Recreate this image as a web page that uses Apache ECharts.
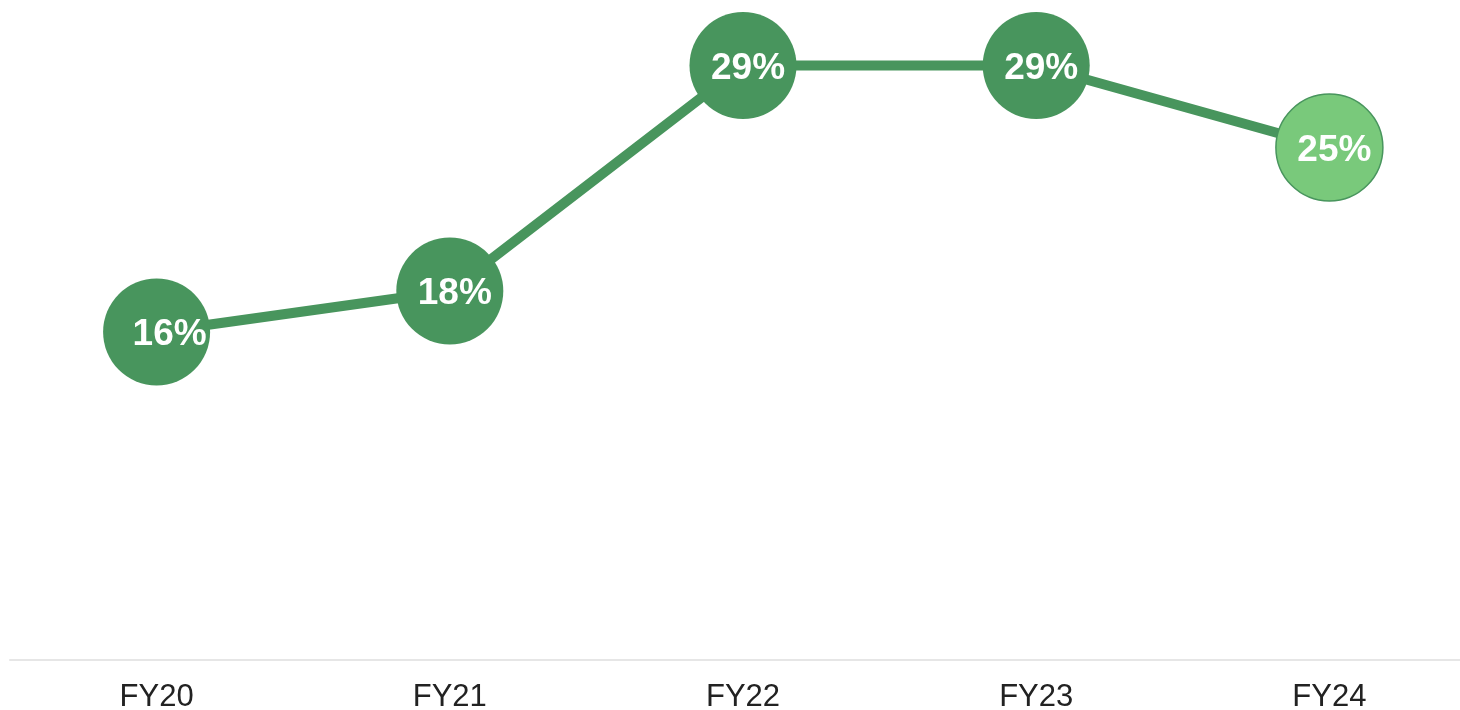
<!DOCTYPE html>
<html>
<head>
    <meta charset="utf-8">
    <title>ECharts</title>
    <script src="https://cdn.jsdelivr.net/npm/echarts@6/dist/echarts.min.js"></script>
    <style>
        html, body { margin: 0; padding: 0; background: #fff; }
    </style>
</head>
<body>
    <div id="main" style="width: 1460px;height:710px;"></div>
    <script type="text/javascript">
        var categories = ['FY20', 'FY21', 'FY22', 'FY23', 'FY24'];
        var values = [16, 18, 29, 29, 25];
        var highlight = [false, false, false, false, true];

        var dark = '#48955d';
        var light = '#79c97b';

        var myChart = echarts.init(document.getElementById('main'));

        var seriesData = values.map(function (v, i) {
            var item = { value: v };
            if (highlight[i]) {
                item.itemStyle = { color: light, borderColor: dark, borderWidth: 1.5 };
            }
            if (i === 0) {
                item.label = { offset: [13, 3] };
            }
            return item;
        });

        var option = {
            backgroundColor: '#ffffff',
            animation: false,
            // plot area runs a bit past the right edge of the canvas
            grid: { left: 10, right: -16, top: 4, bottom: 50, outerBoundsMode: 'none', containLabel: false },
            xAxis: {
                type: 'category',
                data: categories,
                boundaryGap: true,
                axisLine: { lineStyle: { color: '#e6e6e6', width: 2 } },
                axisTick: { show: false },
                axisLabel: {
                    color: '#222',
                    fontSize: 31,
                    fontFamily: 'Liberation Sans, Arial, sans-serif',
                    margin: 22
                }
            },
            yAxis: {
                type: 'value',
                min: 0,
                max: 32,
                show: false
            },
            series: [
                {
                    type: 'line',
                    data: seriesData,
                    symbol: 'circle',
                    symbolSize: 107,
                    lineStyle: { color: dark, width: 10 },
                    itemStyle: { color: dark },
                    label: {
                        show: true,
                        position: 'inside',
                        formatter: '{c}%',
                        offset: [5, 3],
                        color: '#fff',
                        fontSize: 37,
                        fontWeight: 'bold',
                        fontFamily: 'Liberation Sans, Arial, sans-serif'
                    }
                }
            ]
        };
        myChart.setOption(option);
    </script>
</body>
</html>
